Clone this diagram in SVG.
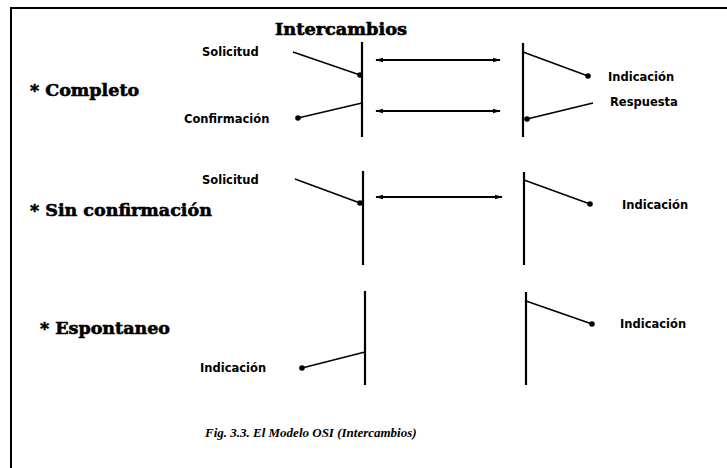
<svg xmlns="http://www.w3.org/2000/svg" width="727" height="468" viewBox="0 0 727 468">
  <style>
    .frame { stroke: #000; stroke-width: 2; fill: none; }
    .axis { stroke: #000; stroke-width: 2.2; fill: none; }
    .prim { stroke: #000; stroke-width: 1.6; fill: none; }
    .link { stroke: #000; stroke-width: 1.8; fill: none; marker-start: url(#tip); marker-end: url(#tip); }
    .dot { fill: #000; }
    .head { font-family: "DejaVu Serif", "Liberation Serif", serif; font-weight: bold; font-size: 17.5px; fill: #000; stroke: #000; stroke-width: 0.6; }
    .title { font-size: 16px; }
    .lbl { font-family: "DejaVu Sans", "Liberation Sans", sans-serif; font-weight: bold; font-size: 11.5px; fill: #000; }
    .cap { font-family: "Liberation Serif", serif; font-weight: bold; font-style: italic; font-size: 13px; fill: #000; }
  </style>
  <defs>
    <marker id="tip" viewBox="0 0 10 8" refX="9" refY="4" markerWidth="8" markerHeight="6.4" markerUnits="userSpaceOnUse" orient="auto-start-reverse">
      <path d="M0,1 L10,4 L0,7 Z" fill="#000"/>
    </marker>
  </defs>
  <rect width="727" height="468" fill="#fff"/>

  <!-- page frame: top and left rules only -->
  <path class="frame" d="M10,8 H727 M11,8 V468"/>

  <text class="head title" x="275" y="35" textLength="132" lengthAdjust="spacingAndGlyphs">Intercambios</text>

  <!-- Completo -->
  <g id="completo">
    <text class="head" x="30" y="96">* Completo</text>
    <line class="axis" x1="362" y1="42" x2="362" y2="137"/>
    <line class="axis" x1="523" y1="43" x2="523" y2="137"/>
    <text class="lbl" x="202" y="56">Solicitud</text>
    <line class="prim" x1="293" y1="52" x2="360" y2="75"/>
    <circle class="dot" cx="360" cy="75" r="2.8"/>
    <text class="lbl" x="184" y="123">Confirmación</text>
    <line class="prim" x1="362" y1="103" x2="298" y2="118"/>
    <circle class="dot" cx="298" cy="118" r="2.8"/>
    <line class="prim" x1="523" y1="52" x2="588" y2="76"/>
    <circle class="dot" cx="588" cy="76" r="2.8"/>
    <text class="lbl" x="608" y="81">Indicación</text>
    <text class="lbl" x="610" y="106">Respuesta</text>
    <line class="prim" x1="593" y1="103" x2="527" y2="119"/>
    <circle class="dot" cx="527" cy="119" r="2.8"/>
  </g>

  <!-- Sin confirmación -->
  <g id="sin-confirmacion">
    <text class="head" x="30" y="216">* Sin confirmación</text>
    <line class="axis" x1="363" y1="171" x2="363" y2="265"/>
    <line class="axis" x1="524" y1="172" x2="524" y2="265"/>
    <text class="lbl" x="202" y="184">Solicitud</text>
    <line class="prim" x1="295" y1="179" x2="360" y2="203"/>
    <circle class="dot" cx="360" cy="203" r="2.8"/>
    <line class="prim" x1="524" y1="180" x2="590" y2="204"/>
    <circle class="dot" cx="590" cy="204" r="2.8"/>
    <text class="lbl" x="622" y="209">Indicación</text>
  </g>

  <!-- Espontaneo -->
  <g id="espontaneo">
    <text class="head" x="40" y="334">* Espontaneo</text>
    <line class="axis" x1="365" y1="291" x2="365" y2="385"/>
    <line class="axis" x1="526" y1="292" x2="526" y2="385"/>
    <line class="prim" x1="365" y1="352" x2="302" y2="368"/>
    <circle class="dot" cx="302" cy="368" r="2.8"/>
    <text class="lbl" x="200" y="372">Indicación</text>
    <line class="prim" x1="526" y1="301" x2="592" y2="324"/>
    <circle class="dot" cx="592" cy="324" r="2.8"/>
    <text class="lbl" x="620" y="328">Indicación</text>
  </g>

  <!-- service exchanges between the two sides -->
  <g id="connectors">
    <line class="link" x1="376" y1="60" x2="500" y2="60"/>
    <line class="link" x1="376" y1="111" x2="500" y2="111"/>
    <line class="link" x1="376" y1="197" x2="502" y2="197"/>
  </g>

  <text class="cap" x="205" y="437">Fig. 3.3. El Modelo OSI (Intercambios)</text>
</svg>
